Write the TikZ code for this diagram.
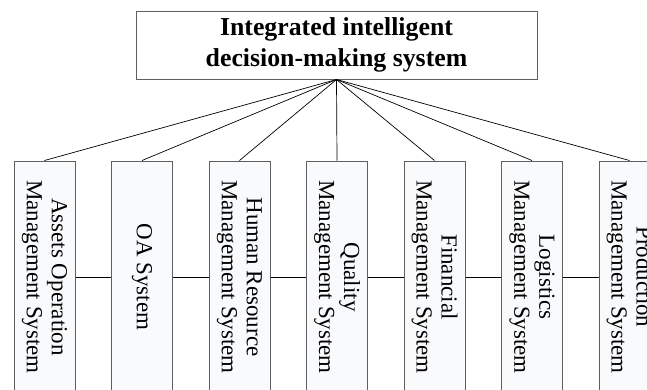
\documentclass[tikz,border=0pt]{standalone}
\usepackage{fontspec}
\setmainfont{Liberation Serif}
\definecolor{boxfill}{RGB}{249,250,252}
\definecolor{boxline}{RGB}{95,95,95}
\tikzset{
  topbox/.style={draw=boxline, line width=1pt, fill=white, minimum width=401pt, minimum height=68pt, inner sep=0pt, align=center, font=\fontsize{25.8}{31}\selectfont\bfseries},
  subbox/.style={draw=boxline, line width=1pt, fill=boxfill, minimum width=61pt, minimum height=232pt, inner sep=0pt},
  sublabel/.style={rotate=-90, align=center, inner sep=0pt, font=\fontsize{23}{25}\selectfont},
  conn/.style={draw=black, line width=0.7pt}
}
\begin{document}
\begin{tikzpicture}[x=1pt,y=1pt]
\useasboundingbox (0,0) rectangle (647,-389);
\clip (0,0) rectangle (647,-389);
\node[topbox] (top) at (336.5,-45) {Integrated intelligent\\decision-making system};
\node[subbox] (b1) at (44.5,-277) {};
\node[subbox] (b2) at (142,-277) {};
\node[subbox] (b3) at (239.5,-277) {};
\node[subbox] (b4) at (337,-277) {};
\node[subbox] (b5) at (434.5,-277) {};
\node[subbox] (b6) at (532,-277) {};
\node[subbox] (b7) at (629.5,-277) {};
\node[sublabel] (t1) at (b1) {Assets Operation\\Management System};
\node[sublabel] (t2) at (b2) {OA System};
\node[sublabel] (t3) at (b3) {Human Resource\\Management System};
\node[sublabel] (t4) at (b4) {Quality\\Management System};
\node[sublabel] (t5) at (b5) {Financial\\Management System};
\node[sublabel] (t6) at (b6) {Logistics\\Management System};
\node[sublabel] (t7) at (b7) {Production\\Management System};
\foreach \i in {1,...,7} {\draw[conn] (top.south) -- (b\i.north);}
\foreach \i/\j in {1/2,2/3,3/4,4/5,5/6,6/7} {\draw[conn] (b\i.east) -- (b\j.west);}
\end{tikzpicture}
\end{document}
